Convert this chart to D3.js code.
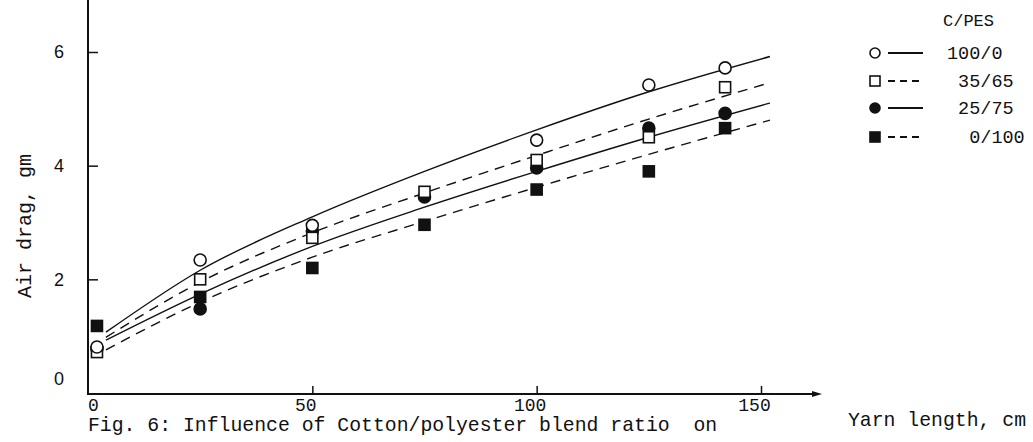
<!DOCTYPE html>
<html lang="en">
<head>
<meta charset="utf-8">
<style>
body { margin: 0; background: #fff; }
svg text { font-family: 'Liberation Mono', 'DejaVu Sans Mono', monospace; fill: #111; }
.curve { fill: none; stroke: #111; stroke-width: 1.4; }
.dashed { stroke-dasharray: 10,7; }
.axis-line { stroke: #111; stroke-width: 2; fill: none; }
</style>
<title>Air drag vs yarn length</title>
<script src="https://cdn.jsdelivr.net/npm/d3@7"></script>
</head>
<body>
<div id="chart"></div>
<script>
var w = 1033, h = 442;

// measured air drag (gm) at each yarn length (cm)
var lengths = [2, 25, 50, 75, 100, 125, 142];
var blends = ["100/0", "35/65", "25/75", "0/100"];
var drag100_0 = [0.81, 2.34, 2.95, null, 4.45, 5.42, 5.72];
var drag35_65 = [0.72, 2.00, 2.73, 3.54, 4.10, 4.50, 5.38];
var drag25_75 = [0.78, 1.48, 2.85, 3.45, 3.96, 4.66, 4.92];
var drag0_100 = [1.18, 1.69, 2.20, 2.96, 3.58, 3.90, 4.66];

// fitted curves
var fitLengths = [4, 25, 50, 75, 100, 125, 152];
var fit100_0 = [1.07, 2.16, 3.10, 3.90, 4.63, 5.30, 5.92];
var fit35_65 = [0.98, 1.95, 2.82, 3.52, 4.18, 4.82, 5.46];
var fit25_75 = [0.93, 1.74, 2.58, 3.27, 3.90, 4.50, 5.10];
var fit0_100 = [0.76, 1.60, 2.39, 3.02, 3.62, 4.20, 4.80];

var xTicks = [0, 50, 100, 150];
var yTicks = [0, 2, 4, 6];

var series = [
  {name: blends[0], pts: drag100_0, fit: fit100_0, mark: "circle", filled: false, dashed: false},
  {name: blends[1], pts: drag35_65, fit: fit35_65, mark: "square", filled: false, dashed: true},
  {name: blends[2], pts: drag25_75, fit: fit25_75, mark: "circle", filled: true, dashed: false},
  {name: blends[3], pts: drag0_100, fit: fit0_100, mark: "square", filled: true, dashed: true}
];

var x = d3.scaleLinear().domain([0, 150]).range([88, 761]);
var y = d3.scaleLinear().domain([0, 6]).range([393, 52]);

var svg = d3.select("#chart").append("svg")
  .attr("width", w).attr("height", h);

svg.append("rect").attr("width", w).attr("height", h).attr("fill", "#fff");

// axes
svg.append("line").attr("class", "axis-line")
  .attr("x1", 88).attr("x2", 88).attr("y1", 0).attr("y2", 395);
svg.append("line").attr("class", "axis-line")
  .attr("x1", 87).attr("x2", 818).attr("y1", 394).attr("y2", 394);
svg.append("path")
  .attr("d", "M812,391 L822,394 L812,397 Z")
  .attr("fill", "#111");

var xAxis = svg.append("g")
  .attr("transform", "translate(0,394)")
  .call(d3.axisBottom(x).tickValues(xTicks).tickFormat(d3.format("d"))
    .tickSizeInner(-8).tickSizeOuter(0).tickPadding(4));
xAxis.select(".domain").remove();
xAxis.selectAll(".tick line").attr("stroke", "#111").attr("stroke-width", 1.5)
  .attr("y2", function(d){ return d === 0 ? 0 : -8; });
xAxis.selectAll(".tick text")
  .style("font-size", "18px")
  .attr("dx", function(d){ return d === 0 ? 5 : -7; });

var yAxis = svg.append("g")
  .attr("transform", "translate(88,0)")
  .call(d3.axisLeft(y).tickValues(yTicks).tickFormat(d3.format("d"))
    .tickSizeInner(-10).tickSizeOuter(0).tickPadding(24));
yAxis.select(".domain").remove();
yAxis.selectAll(".tick line").attr("stroke", "#111").attr("stroke-width", 1.5)
  .attr("x2", function(d){ return d === 0 ? 0 : 10; });
yAxis.selectAll(".tick text")
  .style("font-family", "'Liberation Sans', Arial, sans-serif")
  .style("font-size", "18px")
  .attr("dy", function(d){ return d === 0 ? "-0.45em" : "0.32em"; });

// fitted curves
var line = d3.line()
  .x(function(d){ return x(d[0]); })
  .y(function(d){ return y(d[1]); })
  .curve(d3.curveMonotoneX);

svg.selectAll(".curve")
  .data(series)
  .enter()
  .append("path")
  .attr("class", function(d){ return d.dashed ? "curve dashed" : "curve"; })
  .attr("d", function(d){
    return line(fitLengths.map(function(l, i){ return [l, d.fit[i]]; }));
  });

// markers, filled ones first so open ones sit on top
function drawMark(g, s, cx, cy, size) {
  if (s.mark === "circle") {
    g.append("circle").attr("cx", cx).attr("cy", cy).attr("r", size / 2)
      .attr("fill", s.filled ? "#111" : "#fff")
      .attr("stroke", "#111").attr("stroke-width", 1.6);
  } else {
    g.append("rect").attr("x", cx - size / 2).attr("y", cy - size / 2)
      .attr("width", size).attr("height", size)
      .attr("fill", s.filled ? "#111" : "#fff")
      .attr("stroke", "#111").attr("stroke-width", 1.6);
  }
}

var markOrder = [3, 2, 1, 0];
var marks = svg.append("g");
markOrder.forEach(function(k){
  var s = series[k];
  s.pts.forEach(function(v, i){
    if (v === null) return;
    drawMark(marks, s, x(lengths[i]), y(v), s.mark === "circle" ? 12 : 11);
  });
});

// legend
var legend = svg.append("g");
legend.append("text").attr("x", 943).attr("y", 26)
  .style("font-size", "17px").text("C/PES");
var rowY = [53, 81, 108, 137];
var labelPad = ["100/0", " 35/65", " 25/75", "  0/100"];
series.forEach(function(s, i){
  drawMark(legend, s, 875, rowY[i], 10);
  legend.append("line")
    .attr("class", s.dashed ? "curve dashed" : "curve")
    .style("stroke-dasharray", s.dashed ? "7,5" : null)
    .style("stroke-width", 2)
    .attr("x1", 888).attr("x2", 923)
    .attr("y1", rowY[i]).attr("y2", rowY[i]);
  legend.append("text")
    .attr("x", 947).attr("y", rowY[i] + 6)
    .style("font-size", "18.5px")
    .style("white-space", "pre")
    .text(labelPad[i]);
});

// axis titles and caption
svg.append("text")
  .attr("transform", "translate(31,226) rotate(-90)")
  .attr("text-anchor", "middle")
  .style("font-size", "20px")
  .text("Air drag, gm");

svg.append("text")
  .attr("x", 88).attr("y", 431)
  .style("font-size", "19.8px")
  .style("white-space", "pre")
  .text("Fig. 6: Influence of Cotton/polyester blend ratio  on");

svg.append("text")
  .attr("x", 848).attr("y", 426)
  .style("font-size", "19.8px")
  .text("Yarn length, cm");
</script>
</body>
</html>
